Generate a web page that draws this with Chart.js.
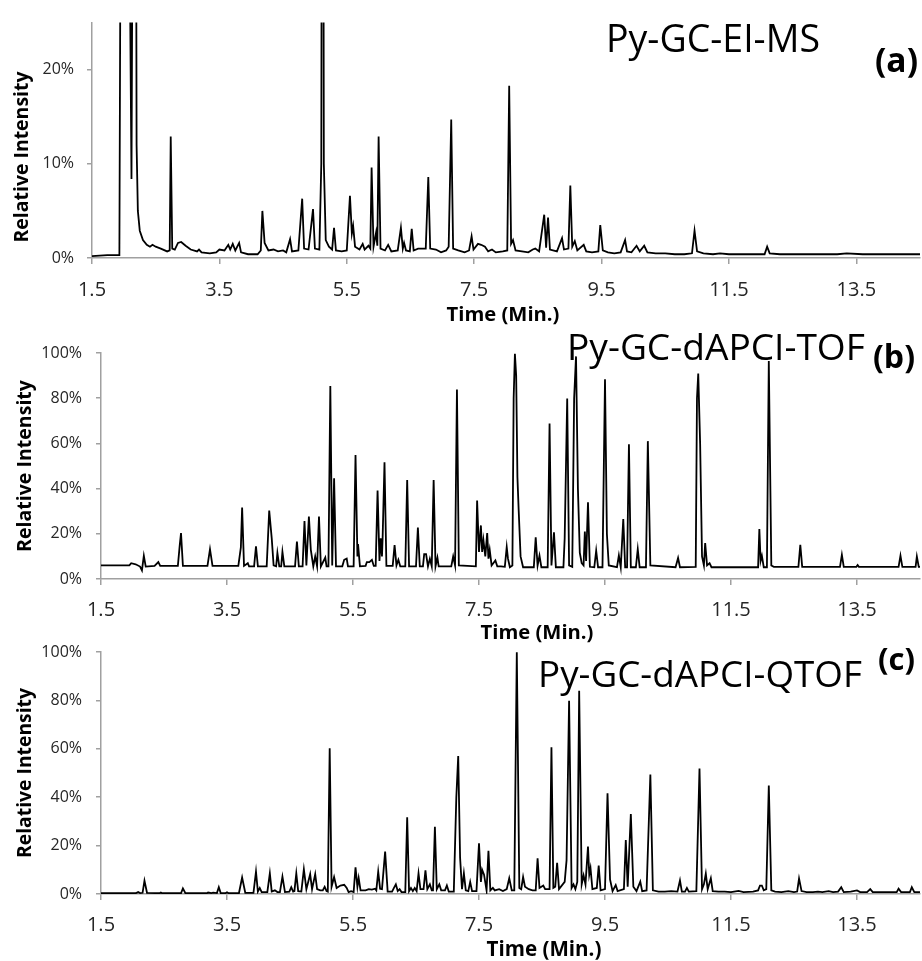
<!DOCTYPE html>
<html>
<head>
<meta charset="utf-8">
<script src="https://cdn.jsdelivr.net/npm/chart.js@4.4.1/dist/chart.umd.min.js"></script>
<style>
  html, body { margin: 0; padding: 0; background: #fff; }
  #wrap { position: relative; width: 922px; height: 961px; overflow: hidden; }
  #wrap canvas { position: absolute; left: 0; top: 0; }
</style>
</head>
<body>
<div id="wrap">
  <canvas id="chartA" width="922" height="961"></canvas>
  <canvas id="chartB" width="922" height="961"></canvas>
  <canvas id="chartC" width="922" height="961"></canvas>
</div>
<script>
// Three stacked pyrolysis chromatograms (relative intensity vs retention time).
// Each trace is [time (min), relative intensity (%)].

const timeTicks = [1.5, 3.5, 5.5, 7.5, 9.5, 11.5, 13.5];
const yTicksA = [0, 10, 20];
const yTicksBC = [0, 20, 40, 60, 80, 100];
const panelTitles = ['Py-GC-EI-MS', 'Py-GC-dAPCI-TOF', 'Py-GC-dAPCI-QTOF'];
const panelLetters = ['(a)', '(b)', '(c)'];
const xTitle = 'Time (Min.)';
const yTitle = 'Relative Intensity';

// (a) Py-GC-EI-MS - peaks above 25% run off the top of the plot
const traceA = [
  [1.50, 0.2], [1.74, 0.3], [1.93, 0.3], [1.95, 40], [1.98, 100], [2.06, 60], [2.12, 8.4], [2.15, 60], [2.175, 100],
  [2.20, 12], [2.22, 5], [2.25, 2.9], [2.30, 1.9], [2.36, 1.4], [2.41, 1.2], [2.45, 1.4], [2.50, 1.2], [2.58, 1.0], [2.68, 0.7],
  [2.72, 0.8], [2.736, 12.9], [2.76, 1.0], [2.80, 0.9], [2.85, 1.6], [2.90, 1.7], [2.97, 1.3], [3.05, 0.9], [3.15, 0.7], [3.18, 0.9],
  [3.22, 0.6], [3.35, 0.5], [3.45, 0.6], [3.50, 0.9], [3.58, 0.8], [3.64, 1.4], [3.67, 0.9], [3.71, 1.5], [3.75, 0.8], [3.81, 1.6],
  [3.84, 0.6], [3.95, 0.4], [4.10, 0.4], [4.15, 0.8], [4.175, 5.0], [4.21, 1.6], [4.27, 0.8], [4.35, 0.9], [4.42, 0.7], [4.50, 0.8],
  [4.55, 0.6], [4.61, 2.0], [4.64, 0.7], [4.74, 0.8], [4.80, 6.3], [4.83, 1.0], [4.90, 0.9], [4.97, 5.2], [5.00, 1.0], [5.07, 0.9],
  [5.10, 10], [5.12, 100], [5.14, 10], [5.17, 1.9], [5.22, 1.2], [5.27, 0.9], [5.30, 3.2], [5.33, 0.8], [5.42, 0.7], [5.50, 0.8],
  [5.55, 6.6], [5.58, 2.6], [5.60, 3.4], [5.63, 1.2], [5.70, 0.9], [5.75, 1.5], [5.78, 0.9], [5.84, 1.3], [5.87, 1.0],
  [5.89, 9.6], [5.92, 1.2], [5.96, 2.7], [5.98, 1.3], [6.00, 12.9], [6.03, 1.0], [6.10, 0.8], [6.15, 1.4], [6.20, 0.7],
  [6.30, 0.8], [6.35, 3.2], [6.38, 1.0], [6.40, 1.6], [6.43, 0.8], [6.49, 0.7], [6.52, 3.1], [6.55, 0.8], [6.62, 1.0],
  [6.68, 1.0], [6.74, 1.0], [6.78, 8.6], [6.81, 1.0], [6.90, 0.9], [6.98, 0.6], [7.06, 0.8], [7.10, 1.2], [7.14, 14.7],
  [7.17, 1.0], [7.25, 0.8], [7.35, 0.6], [7.42, 0.8], [7.46, 2.3], [7.49, 0.9], [7.56, 1.5], [7.61, 1.4], [7.67, 1.2],
  [7.72, 0.7], [7.78, 0.9], [7.84, 0.6], [7.95, 0.7], [8.02, 0.8], [8.05, 18.3], [8.08, 1.5], [8.11, 1.9], [8.15, 0.8],
  [8.25, 0.7], [8.35, 0.6], [8.42, 0.9], [8.46, 1.0], [8.52, 0.7], [8.60, 4.6], [8.63, 1.1], [8.66, 4.3], [8.69, 0.9],
  [8.80, 0.7], [8.88, 2.1], [8.91, 0.9], [8.98, 1.0], [9.01, 7.7], [9.04, 1.2], [9.08, 1.8], [9.12, 0.8], [9.22, 1.4],
  [9.26, 0.7], [9.35, 0.6], [9.45, 0.7], [9.48, 3.5], [9.52, 0.8], [9.60, 0.6], [9.70, 0.5], [9.80, 0.6], [9.87, 1.9],
  [9.90, 0.7], [9.97, 0.6], [10.05, 1.3], [10.10, 0.7], [10.17, 1.3], [10.22, 0.6], [10.35, 0.5], [10.50, 0.5], [10.65, 0.4],
  [10.80, 0.4], [10.92, 0.5], [10.96, 2.9], [11.00, 0.7], [11.10, 0.5], [11.25, 0.4], [11.36, 0.5], [11.50, 0.4], [11.70, 0.4],
  [11.90, 0.4], [12.06, 0.4], [12.10, 1.2], [12.14, 0.5], [12.30, 0.4], [12.60, 0.4], [12.90, 0.4], [13.20, 0.4], [13.35, 0.5],
  [13.60, 0.4], [13.90, 0.4], [14.20, 0.4], [14.50, 0.4]
];

// (b) Py-GC-dAPCI-TOF
const traceB = [
  [1.50, 6.0], [1.95, 6.0], [1.98, 7.0], [2.05, 6.5], [2.12, 5.5], [2.15, 3.8], [2.18, 10.3], [2.21, 5.5], [2.35, 5.8],
  [2.41, 7.5], [2.44, 5.8], [2.72, 5.8], [2.75, 15], [2.77, 20.3], [2.80, 5.8], [3.19, 5.8], [3.23, 13.2], [3.27, 5.8],
  [3.68, 5.8], [3.72, 14], [3.74, 31.6], [3.77, 5.8], [3.83, 7.0], [3.85, 5.6], [3.93, 5.6], [3.96, 14.4], [3.99, 5.6],
  [4.13, 5.6], [4.17, 30.3], [4.21, 18], [4.24, 6], [4.28, 5.6], [4.30, 11.5], [4.33, 5.6], [4.36, 5.6], [4.38, 12], [4.41, 5.6],
  [4.58, 5.6], [4.61, 16.6], [4.64, 5.6], [4.70, 5.6], [4.73, 25.7], [4.76, 6], [4.80, 27.6], [4.83, 13], [4.87, 5.6],
  [4.90, 10], [4.93, 5.6], [4.96, 27.6], [4.99, 5.6], [5.06, 9.5], [5.08, 5.6], [5.11, 5.6], [5.14, 85.4], [5.17, 6],
  [5.20, 44.6], [5.23, 5.6], [5.33, 5.6], [5.36, 8.5], [5.40, 9], [5.42, 5.6], [5.51, 5.6], [5.54, 54.9], [5.57, 10],
  [5.58, 15.5], [5.61, 5.6], [5.70, 5.8], [5.72, 7.5], [5.76, 7.5], [5.80, 8.5], [5.83, 5.8], [5.86, 5.8], [5.89, 39.1],
  [5.92, 8], [5.94, 18], [5.96, 10], [5.97, 18], [6.00, 51.6], [6.03, 5.8], [6.13, 5.8], [6.16, 15], [6.19, 6], [6.22, 8.5],
  [6.25, 5.6], [6.33, 5.6], [6.36, 43.8], [6.39, 5.6], [6.50, 5.6], [6.53, 22.8], [6.56, 5.6], [6.61, 5.6], [6.63, 11],
  [6.66, 11], [6.69, 5.6], [6.72, 9], [6.75, 5.6], [6.78, 43.8], [6.81, 5.6], [6.84, 9.5], [6.86, 5.6], [7.06, 5.6],
  [7.09, 10], [7.12, 6], [7.15, 83.8], [7.18, 6], [7.45, 5.6], [7.47, 34.7], [7.50, 12], [7.53, 23.7], [7.55, 12],
  [7.57, 17.3], [7.60, 10], [7.63, 20.3], [7.65, 9], [7.67, 12.9], [7.70, 6], [7.76, 8.2], [7.79, 5.6], [7.85, 5.6],
  [7.91, 5.4], [7.94, 14.1], [7.96, 9], [7.99, 5.2], [8.03, 6], [8.05, 80], [8.07, 99.7], [8.09, 90], [8.11, 45],
  [8.13, 30.3], [8.16, 10], [8.20, 5.2], [8.37, 5.2], [8.40, 18.4], [8.43, 6], [8.46, 10.3], [8.49, 5.2], [8.59, 5.2],
  [8.62, 68.8], [8.65, 6], [8.69, 20.7], [8.72, 5.2], [8.84, 5.2], [8.86, 18], [8.90, 79.9], [8.93, 6], [8.98, 5.4],
  [9.01, 80], [9.04, 98.5], [9.07, 40], [9.10, 11.6], [9.13, 7], [9.16, 6], [9.18, 21], [9.20, 8], [9.23, 34], [9.26, 5.4],
  [9.33, 5.2], [9.36, 12.5], [9.39, 5.2], [9.46, 5.2], [9.50, 88.4], [9.53, 20], [9.56, 6], [9.69, 5.2], [9.72, 10.4],
  [9.75, 5.2], [9.79, 26.5], [9.82, 5.2], [9.85, 5.2], [9.88, 59.6], [9.91, 5.2], [9.99, 5.2], [10.02, 13.2], [10.05, 5.2],
  [10.15, 5.2], [10.18, 61], [10.22, 6], [10.62, 5.2], [10.66, 9.3], [10.69, 5.2], [10.94, 5.4], [10.96, 80], [10.98, 90.9],
  [11.01, 60], [11.04, 10], [11.07, 6], [11.09, 15.9], [11.12, 6], [11.16, 7], [11.19, 5.2], [11.93, 5.2], [11.95, 22.1],
  [11.97, 8], [11.99, 10.3], [12.02, 5.2], [12.07, 5.2], [12.10, 96.5], [12.14, 6], [12.18, 5.4], [12.57, 5.4], [12.60, 15.1],
  [12.63, 5.4], [13.23, 5.4], [13.26, 10.7], [13.29, 5.4], [13.49, 5.4], [13.51, 6.2], [13.53, 5.4], [14.16, 5.4],
  [14.19, 10.3], [14.22, 5.4], [14.43, 5.4], [14.45, 10], [14.48, 5.4], [14.50, 5.4]
];

// (c) Py-GC-dAPCI-QTOF
const traceC = [
  [1.50, 0.3], [2.05, 0.3], [2.09, 0.8], [2.12, 0.4], [2.16, 0.5], [2.19, 5.5], [2.23, 0.5], [2.43, 0.3], [2.45, 0.6],
  [2.47, 0.3], [2.77, 0.3], [2.80, 2.3], [2.84, 0.3], [3.18, 0.3], [3.20, 0.6], [3.25, 0.4], [3.28, 0.6], [3.34, 0.4],
  [3.37, 2.8], [3.40, 0.4], [3.48, 0.4], [3.50, 0.7], [3.52, 0.4], [3.69, 0.4], [3.74, 6.8], [3.79, 0.5], [3.92, 0.5],
  [3.96, 9.2], [3.99, 1.0], [4.02, 2.5], [4.05, 0.8], [4.14, 0.8], [4.18, 8.5], [4.21, 1.0], [4.26, 1.5], [4.30, 0.8],
  [4.34, 0.8], [4.38, 7.2], [4.42, 0.8], [4.49, 1.0], [4.52, 2.8], [4.55, 1.0], [4.57, 1.2], [4.60, 8.5], [4.63, 1.2],
  [4.68, 1.0], [4.72, 10.2], [4.76, 2], [4.82, 8.2], [4.85, 2], [4.90, 8.2], [4.93, 2], [4.98, 1.5], [5.02, 1.5],
  [5.05, 3.0], [5.08, 1.2], [5.10, 1], [5.13, 60.2], [5.16, 3], [5.20, 7], [5.24, 2.5], [5.30, 3.5], [5.36, 3.8],
  [5.40, 2.5], [5.43, 0.8], [5.47, 1.2], [5.51, 0.8], [5.54, 11], [5.57, 3], [5.59, 6.6], [5.62, 1.5], [5.70, 1.5],
  [5.75, 2.0], [5.80, 1.8], [5.85, 2.2], [5.87, 1.5], [5.90, 9.2], [5.93, 2.2], [5.96, 2.0], [6.01, 17.5], [6.05, 1.0],
  [6.12, 1.0], [6.15, 2.5], [6.18, 4.0], [6.21, 1.2], [6.24, 2.0], [6.27, 0.8], [6.33, 0.8], [6.36, 31.7], [6.39, 1.2],
  [6.42, 2.5], [6.45, 1.2], [6.48, 2.5], [6.51, 1.2], [6.54, 8.5], [6.57, 2], [6.62, 2], [6.65, 9.8], [6.68, 2],
  [6.72, 4], [6.75, 1.5], [6.77, 1.5], [6.80, 27.8], [6.83, 2], [6.87, 4], [6.90, 1.5], [6.96, 1.5], [6.99, 3.5],
  [7.02, 1.0], [7.10, 1], [7.14, 40], [7.17, 57], [7.20, 15], [7.23, 2], [7.26, 8.5], [7.29, 1.5], [7.33, 1.2],
  [7.36, 5], [7.39, 1.2], [7.46, 1.2], [7.50, 21], [7.53, 5], [7.55, 10], [7.58, 8], [7.62, 1.5], [7.65, 17.9],
  [7.68, 1.5], [7.72, 2.5], [7.75, 1.5], [7.82, 2], [7.88, 1.2], [7.94, 2], [7.98, 6.5], [8.02, 1.5], [8.06, 1.5],
  [8.10, 99.9], [8.14, 2.5], [8.17, 2], [8.20, 7], [8.23, 3], [8.29, 2], [8.35, 1.5], [8.40, 1.5], [8.43, 14.7],
  [8.46, 2.5], [8.49, 3], [8.52, 3.5], [8.55, 2], [8.62, 2], [8.65, 60.6], [8.68, 2.5], [8.71, 3], [8.74, 12.9],
  [8.77, 2], [8.86, 5], [8.89, 14], [8.93, 79.8], [8.97, 2.5], [9.00, 4], [9.03, 2], [9.06, 5], [9.09, 84], [9.13, 4],
  [9.16, 7.7], [9.19, 4], [9.23, 19.6], [9.25, 8], [9.27, 10.7], [9.30, 2], [9.37, 2.5], [9.40, 11.7], [9.43, 1.5],
  [9.50, 2], [9.54, 41.6], [9.58, 6], [9.62, 1.2], [9.67, 3.7], [9.70, 1.2], [9.80, 2], [9.83, 22.3], [9.86, 3],
  [9.91, 33], [9.95, 3], [10.00, 1.2], [10.06, 5.1], [10.09, 1.2], [10.16, 1.5], [10.22, 49.4], [10.26, 1.5], [10.35, 1.0],
  [10.45, 1.0], [10.55, 1.2], [10.65, 1.0], [10.69, 5.6], [10.72, 1.0], [10.77, 1.0], [10.80, 2.5], [10.83, 1.0],
  [10.95, 1.2], [11.00, 51.9], [11.04, 2], [11.07, 4], [11.10, 8.4], [11.13, 2], [11.18, 6.5], [11.21, 1.2], [11.30, 1.0],
  [11.40, 1.0], [11.50, 0.8], [11.62, 1.3], [11.70, 0.8], [11.85, 1.0], [11.93, 1.5], [11.96, 3.5], [11.99, 3.5],
  [12.02, 1.5], [12.06, 2], [12.10, 44.8], [12.14, 1.5], [12.20, 1.0], [12.30, 0.8], [12.41, 1.2], [12.50, 0.8],
  [12.55, 1.0], [12.58, 6.4], [12.62, 1.2], [12.70, 0.8], [12.80, 0.8], [12.88, 1.0], [12.95, 0.8], [13.05, 1.2],
  [13.12, 0.8], [13.20, 1.0], [13.25, 2.8], [13.29, 0.8], [13.40, 1.0], [13.50, 1.5], [13.55, 0.8], [13.66, 0.8],
  [13.71, 2.0], [13.75, 0.8], [13.95, 0.8], [14.05, 0.8], [14.13, 0.8], [14.16, 2.2], [14.20, 0.8], [14.34, 0.8],
  [14.37, 2.8], [14.41, 0.8], [14.50, 0.8]
];

const FONT = '"Open Sans", "DejaVu Sans", sans-serif';
const AXIS_GREY = '#a0a0a0';
const TICK_TEXT = '#262626';
const PAGE_H = 961;
const X_AXIS_H = 40;

// Draws panel captions and axis titles, sizing each font so the text spans the
// same width as in the reference.
const panelTextPlugin = {
    id: 'panelText',
    afterDraw(chart, args, opts) {
        const ctx = chart.ctx;
        (opts.items || []).forEach(it => {
            ctx.save();
            ctx.font = `${it.weight} 100px ${FONT}`;
            const size = 100 * it.width / ctx.measureText(it.text).width;
            ctx.font = `${it.weight} ${size.toFixed(2)}px ${FONT}`;
            ctx.fillStyle = '#000';
            ctx.textAlign = it.align;
            ctx.textBaseline = it.baseline;
            ctx.translate(it.x, it.y);
            if (it.rotate) ctx.rotate(-Math.PI / 2);
            ctx.fillText(it.text, 0, 0);
            ctx.restore();
        });
    }
};

function makePanel(canvasId, trace, box, yMax, yTicks, texts) {
    const ctx = document.getElementById(canvasId).getContext('2d');
    return new Chart(ctx, {
        type: 'line',
        data: {
            datasets: [{
                data: trace.map(([x, y]) => ({ x, y })),
                borderColor: '#000',
                borderWidth: 1.8,
                pointRadius: 0,
                tension: 0,
                fill: false
            }]
        },
        plugins: [panelTextPlugin],
        options: {
            responsive: false,
            animation: false,
            events: [],
            layout: {
                padding: { left: 0, right: 922 - box.right, top: box.top, bottom: PAGE_H - box.bottom - X_AXIS_H }
            },
            plugins: {
                legend: { display: false },
                tooltip: { enabled: false },
                panelText: { items: texts }
            },
            scales: {
                x: {
                    type: 'linear',
                    min: 1.5,
                    max: 14.5,
                    afterBuildTicks: s => { s.ticks = timeTicks.map(v => ({ value: v })); },
                    afterFit: s => { s.height = X_AXIS_H; },
                    ticks: {
                        autoSkip: false, maxRotation: 0, padding: box.xPad,
                        color: TICK_TEXT, font: { family: FONT, size: 20 },
                        callback: v => v.toFixed(1)
                    },
                    grid: { drawOnChartArea: false, drawTicks: true, tickLength: 6, color: AXIS_GREY, lineWidth: 1.5 },
                    border: { display: true, color: AXIS_GREY, width: 1.5 }
                },
                y: {
                    min: 0,
                    max: yMax,
                    afterBuildTicks: s => { s.ticks = yTicks.map(v => ({ value: v })); },
                    afterFit: s => { s.width = box.left; },
                    ticks: {
                        padding: box.yPad,
                        color: TICK_TEXT, font: { family: FONT, size: 16 },
                        callback: v => v + '%'
                    },
                    grid: { drawOnChartArea: false, drawTicks: true, tickLength: 5, color: AXIS_GREY, lineWidth: 1.5 },
                    border: { display: true, color: AXIS_GREY, width: 1.5 }
                }
            }
        }
    });
}

makePanel('chartA', traceA, { left: 92, right: 920, top: 16, bottom: 258, xPad: 14, yPad: 13 }, 25, yTicksA, [
    { text: yTitle, weight: 'bold', x: 22, y: 157, width: 171, align: 'center', baseline: 'middle', rotate: true },
    { text: xTitle, weight: 'bold', x: 503, y: 315, width: 113, align: 'center', baseline: 'middle' },
    { text: panelTitles[0], weight: 'normal', x: 606, y: 52, width: 214, align: 'left', baseline: 'alphabetic' },
    { text: panelLetters[0], weight: 'bold', x: 875, y: 72, width: 43, align: 'left', baseline: 'alphabetic' }
]);

makePanel('chartB', traceB, { left: 101, right: 920, top: 353, bottom: 579, xPad: 13, yPad: 14 }, 100, yTicksBC, [
    { text: yTitle, weight: 'bold', x: 25, y: 466, width: 172, align: 'center', baseline: 'middle', rotate: true },
    { text: xTitle, weight: 'bold', x: 537, y: 633, width: 113, align: 'center', baseline: 'middle' },
    { text: panelTitles[1], weight: 'normal', x: 567, y: 360, width: 298, align: 'left', baseline: 'alphabetic' },
    { text: panelLetters[1], weight: 'bold', x: 873, y: 368, width: 42, align: 'left', baseline: 'alphabetic' }
]);

makePanel('chartC', traceC, { left: 101, right: 920, top: 652, bottom: 894, xPad: 13, yPad: 14 }, 100, yTicksBC, [
    { text: yTitle, weight: 'bold', x: 25, y: 773, width: 170, align: 'center', baseline: 'middle', rotate: true },
    { text: xTitle, weight: 'bold', x: 544, y: 950, width: 115, align: 'center', baseline: 'middle' },
    { text: panelTitles[2], weight: 'normal', x: 538, y: 687, width: 324, align: 'left', baseline: 'alphabetic' },
    { text: panelLetters[2], weight: 'bold', x: 878, y: 670, width: 37, align: 'left', baseline: 'alphabetic' }
]);
</script>
</body>
</html>
